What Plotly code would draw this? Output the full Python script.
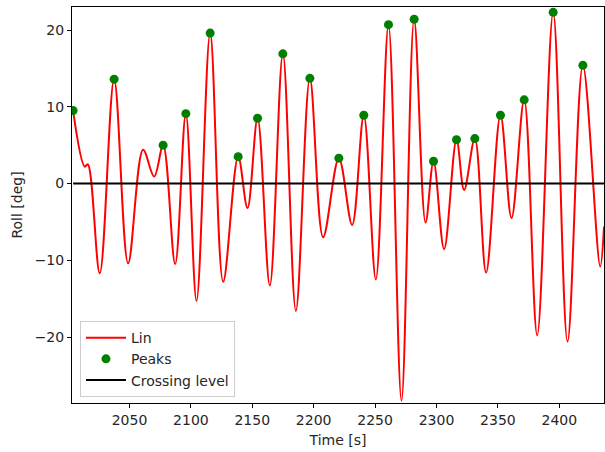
import plotly.graph_objects as go

# Detected roll peaks (time [s], roll [deg])
peak_time = [2004.1, 2037.5, 2077.4, 2095.9, 2115.7, 2138.5, 2154.3, 2174.9,
             2196.9, 2220.5, 2240.8, 2260.9, 2281.8, 2297.6, 2316.3, 2331.2,
             2352.1, 2371.4, 2395.0, 2419.2]
peak_roll = [9.5, 13.6, 5.0, 9.1, 19.6, 3.5, 8.5, 16.9,
             13.7, 3.3, 8.9, 20.7, 21.4, 2.9, 5.7, 5.85,
             8.9, 10.9, 22.3, 15.4]

# Roll troughs
trough_time = [2025.8, 2048.9, 2087.2, 2104.6, 2126.3, 2146.1, 2164.3, 2185.5,
               2207.7, 2231.3, 2250.6, 2271.5, 2291.1, 2306.2, 2322.5, 2340.4,
               2361.1, 2382.0, 2406.7, 2433.3]
trough_roll = [-11.7, -10.4, -10.5, -15.3, -12.8, -3.2, -13.3, -16.6,
               -7.0, -5.4, -12.5, -28.3, -5.1, -8.55, -0.85, -11.6,
               -4.5, -19.8, -20.6, -10.8]

# Secondary turning points of the roll signal (shoulder, small swells, record end)
extra_time = [2013.6, 2016.1, 2061.1, 2070.1, 2436.4]
extra_roll = [2.2, 2.5, 4.4, 0.9, -5.6]

crossing_level = 0.0

x_ticks = [2050, 2100, 2150, 2200, 2250, 2300, 2350, 2400]
y_ticks = [-20, -10, 0, 10, 20]

# Merge all turning points into one time-ordered roll signal
pts = sorted(zip(peak_time + trough_time + extra_time,
                 peak_roll + trough_roll + extra_roll))
sig_time = [p[0] for p in pts]
sig_roll = [p[1] for p in pts]

font = dict(family="DejaVu Sans", size=14, color="#262626")

fig = go.Figure()
fig.add_trace(go.Scatter(
    x=sig_time, y=sig_roll, mode="lines", name="Lin",
    line=dict(color="#ff0000", width=2, shape="spline", smoothing=1.0),
    legendrank=1,
))
fig.add_trace(go.Scatter(
    x=[sig_time[0], sig_time[-1]], y=[crossing_level, crossing_level],
    mode="lines", name="Crossing level",
    line=dict(color="black", width=2),
    legendrank=3,
))
fig.add_trace(go.Scatter(
    x=peak_time, y=peak_roll, mode="markers", name="Peaks",
    marker=dict(color="#008000", size=9),
    legendrank=2,
))

axis_common = dict(
    showline=True, mirror=True, linecolor="black", linewidth=1,
    ticks="outside", ticklen=4, tickcolor="black", tickwidth=1,
    showgrid=False, zeroline=False, tickfont=font,
)

fig.update_layout(
    width=605, height=452,
    margin=dict(l=72, r=1, t=7, b=49),
    paper_bgcolor="white", plot_bgcolor="white",
    font=font,
    showlegend=True,
    legend=dict(
        x=0.015, y=0.015, xanchor="left", yanchor="bottom",
        bgcolor="rgba(255,255,255,0.8)", bordercolor="#cccccc", borderwidth=1,
        font=font, tracegroupgap=0, itemwidth=40,
    ),
    xaxis=dict(
        range=[sig_time[0] - 0.9, sig_time[-1]], tickvals=x_ticks,
        title=dict(text="Time [s]", font=font, standoff=8),
        **axis_common,
    ),
    yaxis=dict(
        range=[-28.6, 23.0], tickvals=y_ticks,
        title=dict(text="Roll [deg]", font=font, standoff=8),
        **axis_common,
    ),
)

fig.write_html("out.html")
